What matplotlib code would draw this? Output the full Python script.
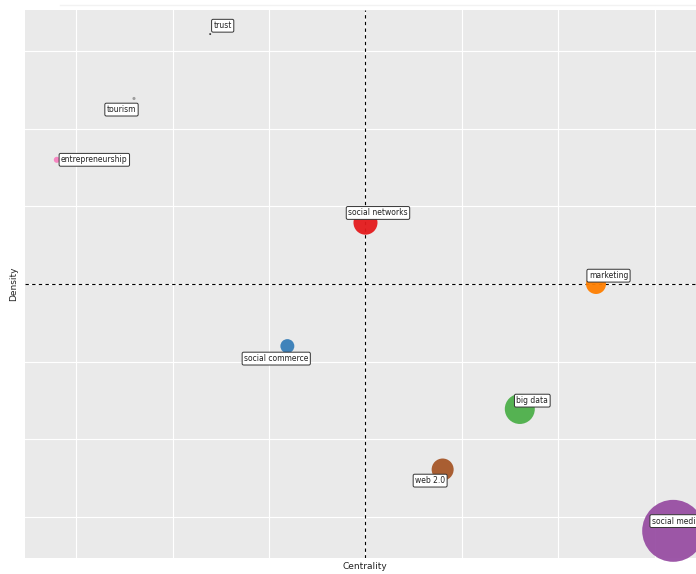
import matplotlib.pyplot as plt
from matplotlib.lines import Line2D

# themes (strategic diagram)
labels = ["trust", "tourism", "entrepreneurship", "social networks", "marketing",
          "social commerce", "big data", "web 2.0", "social media"]
centrality = [-1.61, -2.40, -3.20, 0.00, 2.39, -0.81, 1.60, 0.80, 3.19]
density = [3.22, 2.39, 1.60, 0.79, 0.00, -0.80, -1.61, -2.39, -3.18]
freq = [2, 5, 19, 299, 207, 101, 467, 251, 1990]
colors = ["#333333", "#999999", "#F781BF", "#E41A1C", "#FF7F00",
          "#377EB8", "#4DAF4A", "#A65628", "#984EA3"]

# label offsets in points (label centre relative to the bubble)
offsets = [(9, 6), (-9, -8), (27, 0), (9, 7), (9, 6), (-8, -9), (9, 6), (-9, -8), (2, 7)]

fig = plt.figure(figsize=(6.96, 5.74), dpi=100)
ax = fig.add_axes([25/696, 16/574, 680/696, 548/574])
ax.set_facecolor("#EAEAEA")
for s in ax.spines.values():
    s.set_visible(False)

ax.set_xlim(-3.53, 3.52)
ax.set_ylim(-3.53, 3.53)
ax.set_xticks(range(-3, 4))
ax.set_yticks(range(-3, 4))
ax.tick_params(length=0, labelbottom=False, labelleft=False)
ax.grid(True, color="white", linewidth=0.8)
ax.set_axisbelow(True)

ax.axvline(0, color="black", linestyle=(0, (3, 3)), linewidth=0.8, zorder=1)
ax.axhline(0, color="black", linestyle=(0, (3, 3)), linewidth=0.8, zorder=1)

ax.scatter(centrality, density, s=freq, c=colors, alpha=0.95, edgecolors="none",
           zorder=2, clip_on=False)

for lab, x, y, off in zip(labels, centrality, density, offsets):
    ax.annotate(lab, (x, y), xytext=off, textcoords="offset points",
                ha="center", va="center", fontsize=5.5, color="#222222", zorder=3,
                bbox=dict(boxstyle="round,pad=0.25,rounding_size=0.2", fc="white",
                          ec="#333333", lw=0.7))

ax.set_xlabel("Centrality", fontsize=6.5, color="#222222", labelpad=3)
ax.set_ylabel("Density", fontsize=6.5, color="#222222", labelpad=5)

# faint line at the top of the figure
fig.add_artist(Line2D([60/696, 1], [1 - 5/574, 1 - 5/574], color="#f2f2f2", lw=1))

fig.savefig("out.png", dpi=100)
